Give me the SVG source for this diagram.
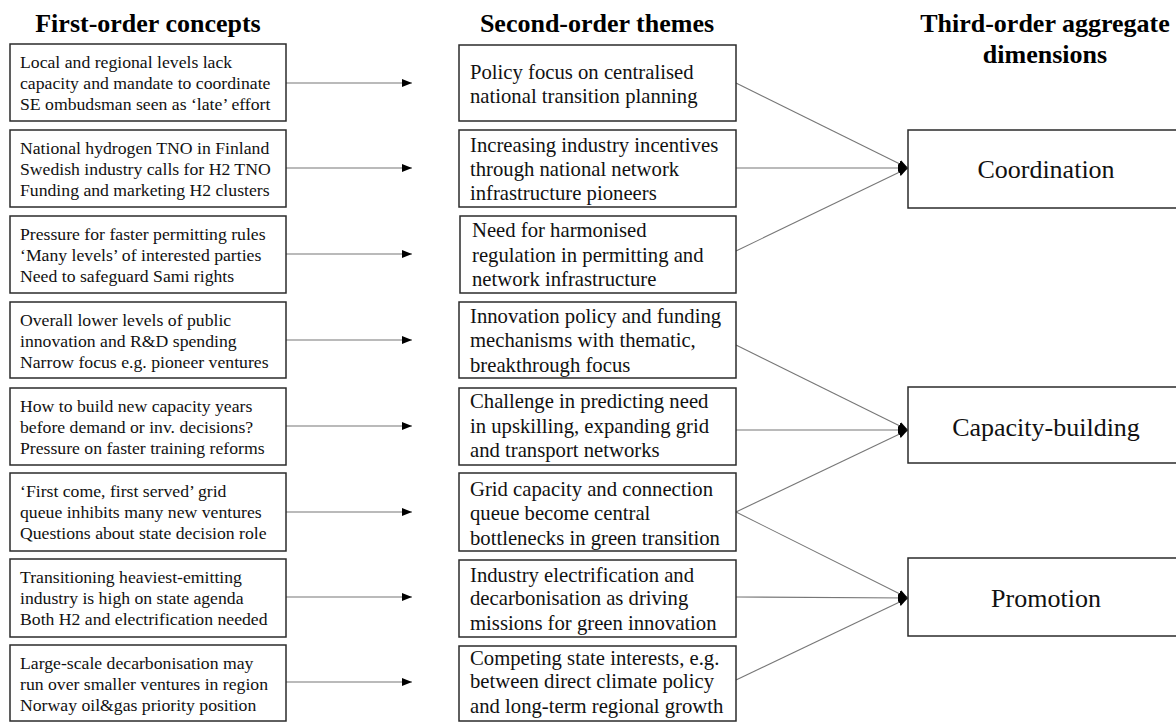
<svg xmlns="http://www.w3.org/2000/svg" width="1176" height="722" viewBox="0 0 1176 722">
<style>
.box{fill:#fff;stroke:#2b2b2b;stroke-width:1.5}
.title{font-family:"Liberation Serif","Times New Roman",serif;font-weight:bold;font-size:26px;fill:#000;text-anchor:middle}
.t1{font-family:"Liberation Serif","Times New Roman",serif;font-size:17.7px;fill:#111}
.t2{font-family:"Liberation Serif","Times New Roman",serif;font-size:20.7px;fill:#111}
.t3{font-family:"Liberation Serif","Times New Roman",serif;font-size:26px;fill:#111;text-anchor:middle}
.conn{stroke:#777;stroke-width:1.1;fill:none}
</style>
<defs>
<marker id="ah" viewBox="0 0 10 8" refX="10" refY="4" markerWidth="10" markerHeight="8" markerUnits="userSpaceOnUse" orient="auto">
<path d="M0,0 L10,4 L0,8 Z" fill="#000"/>
</marker>
</defs>
<rect width="1176" height="722" fill="#fff"/>
<g id="titles">
<text class="title" x="148" y="32">First-order concepts</text>
<text class="title" x="597" y="32">Second-order themes</text>
<text class="title" x="1045" y="32">Third-order aggregate</text>
<text class="title" x="1045" y="63">dimensions</text>
</g>
<g id="connectors">
<line class="conn" x1="286" y1="83" x2="412" y2="83" marker-end="url(#ah)"/>
<line class="conn" x1="286" y1="168" x2="412" y2="168" marker-end="url(#ah)"/>
<line class="conn" x1="286" y1="254" x2="412" y2="254" marker-end="url(#ah)"/>
<line class="conn" x1="286" y1="340" x2="412" y2="340" marker-end="url(#ah)"/>
<line class="conn" x1="286" y1="426" x2="412" y2="426" marker-end="url(#ah)"/>
<line class="conn" x1="286" y1="512" x2="412" y2="512" marker-end="url(#ah)"/>
<line class="conn" x1="286" y1="597" x2="412" y2="597" marker-end="url(#ah)"/>
<line class="conn" x1="286" y1="682" x2="412" y2="682" marker-end="url(#ah)"/>
<line class="conn" x1="736" y1="83" x2="908" y2="168" marker-end="url(#ah)"/>
<line class="conn" x1="736" y1="168" x2="908" y2="168" marker-end="url(#ah)"/>
<line class="conn" x1="736" y1="251" x2="908" y2="168" marker-end="url(#ah)"/>
<line class="conn" x1="736" y1="345" x2="908" y2="430" marker-end="url(#ah)"/>
<line class="conn" x1="736" y1="430" x2="908" y2="430" marker-end="url(#ah)"/>
<line class="conn" x1="736" y1="512" x2="908" y2="430" marker-end="url(#ah)"/>
<line class="conn" x1="736" y1="512" x2="908" y2="598" marker-end="url(#ah)"/>
<line class="conn" x1="736" y1="597" x2="908" y2="598" marker-end="url(#ah)"/>
<line class="conn" x1="736" y1="680" x2="908" y2="598" marker-end="url(#ah)"/>
</g>
<g id="f1"><rect class="box" x="10" y="44" width="276" height="77"/>
<text class="t1" x="20" y="68">Local and regional levels lack</text>
<text class="t1" x="20" y="89">capacity and mandate to coordinate</text>
<text class="t1" x="20" y="110">SE ombudsman seen as ‘late’ effort</text></g>
<g id="f2"><rect class="box" x="10" y="130" width="276" height="77"/>
<text class="t1" x="20" y="154">National hydrogen TNO in Finland</text>
<text class="t1" x="20" y="175">Swedish industry calls for H2 TNO</text>
<text class="t1" x="20" y="196">Funding and marketing H2 clusters</text></g>
<g id="f3"><rect class="box" x="10" y="216" width="276" height="77"/>
<text class="t1" x="20" y="240">Pressure for faster permitting rules</text>
<text class="t1" x="20" y="261">‘Many levels’ of interested parties</text>
<text class="t1" x="20" y="282">Need to safeguard Sami rights</text></g>
<g id="f4"><rect class="box" x="10" y="302" width="276" height="76"/>
<text class="t1" x="20" y="326">Overall lower levels of public</text>
<text class="t1" x="20" y="347">innovation and R&amp;D spending</text>
<text class="t1" x="20" y="368">Narrow focus e.g. pioneer ventures</text></g>
<g id="f5"><rect class="box" x="10" y="388" width="276" height="77"/>
<text class="t1" x="20" y="412">How to build new capacity years</text>
<text class="t1" x="20" y="433">before demand or inv. decisions?</text>
<text class="t1" x="20" y="454">Pressure on faster training reforms</text></g>
<g id="f6"><rect class="box" x="10" y="473" width="276" height="78"/>
<text class="t1" x="20" y="497">‘First come, first served’ grid</text>
<text class="t1" x="20" y="518">queue inhibits many new ventures</text>
<text class="t1" x="20" y="539">Questions about state decision role</text></g>
<g id="f7"><rect class="box" x="10" y="559" width="276" height="78"/>
<text class="t1" x="20" y="583">Transitioning heaviest-emitting</text>
<text class="t1" x="20" y="604">industry is high on state agenda</text>
<text class="t1" x="20" y="625">Both H2 and electrification needed</text></g>
<g id="f8"><rect class="box" x="10" y="645" width="276" height="76"/>
<text class="t1" x="20" y="669">Large-scale decarbonisation may</text>
<text class="t1" x="20" y="690">run over smaller ventures in region</text>
<text class="t1" x="20" y="711">Norway oil&amp;gas priority position</text></g>
<g id="s1"><rect class="box" x="459" y="45" width="277" height="76"/>
<text class="t2" x="470" y="79">Policy focus on centralised</text>
<text class="t2" x="470" y="103">national transition planning</text></g>
<g id="s2"><rect class="box" x="459" y="130" width="277" height="77"/>
<text class="t2" x="470" y="152">Increasing industry incentives</text>
<text class="t2" x="470" y="176">through national network</text>
<text class="t2" x="470" y="200">infrastructure pioneers</text></g>
<g id="s3"><rect class="box" x="460" y="216" width="276" height="77"/>
<text class="t2" x="472" y="237">Need for harmonised</text>
<text class="t2" x="472" y="262">regulation in permitting and</text>
<text class="t2" x="472" y="286">network infrastructure</text></g>
<g id="s4"><rect class="box" x="459" y="302" width="277" height="76"/>
<text class="t2" x="470" y="323">Innovation policy and funding</text>
<text class="t2" x="470" y="347">mechanisms with thematic,</text>
<text class="t2" x="470" y="372">breakthrough focus</text></g>
<g id="s5"><rect class="box" x="459" y="388" width="277" height="77"/>
<text class="t2" x="470" y="408">Challenge in predicting need</text>
<text class="t2" x="470" y="433">in upskilling, expanding grid</text>
<text class="t2" x="470" y="457">and transport networks</text></g>
<g id="s6"><rect class="box" x="459" y="473" width="277" height="78"/>
<text class="t2" x="470" y="496">Grid capacity and connection</text>
<text class="t2" x="470" y="520">queue become central</text>
<text class="t2" x="470" y="545">bottlenecks in green transition</text></g>
<g id="s7"><rect class="box" x="459" y="560" width="277" height="77"/>
<text class="t2" x="470" y="582">Industry electrification and</text>
<text class="t2" x="470" y="605">decarbonisation as driving</text>
<text class="t2" x="470" y="630">missions for green innovation</text></g>
<g id="s8"><rect class="box" x="459" y="646" width="277" height="75"/>
<text class="t2" x="470" y="665">Competing state interests, e.g.</text>
<text class="t2" x="470" y="688">between direct climate policy</text>
<text class="t2" x="470" y="713">and long-term regional growth</text></g>
<g id="d1"><rect class="box" x="908" y="130" width="276" height="78"/>
<text class="t3" x="1046" y="178">Coordination</text></g>
<g id="d2"><rect class="box" x="908" y="387" width="276" height="76"/>
<text class="t3" x="1046" y="436">Capacity-building</text></g>
<g id="d3"><rect class="box" x="908" y="558" width="276" height="78"/>
<text class="t3" x="1046" y="607">Promotion</text></g>
</svg>
